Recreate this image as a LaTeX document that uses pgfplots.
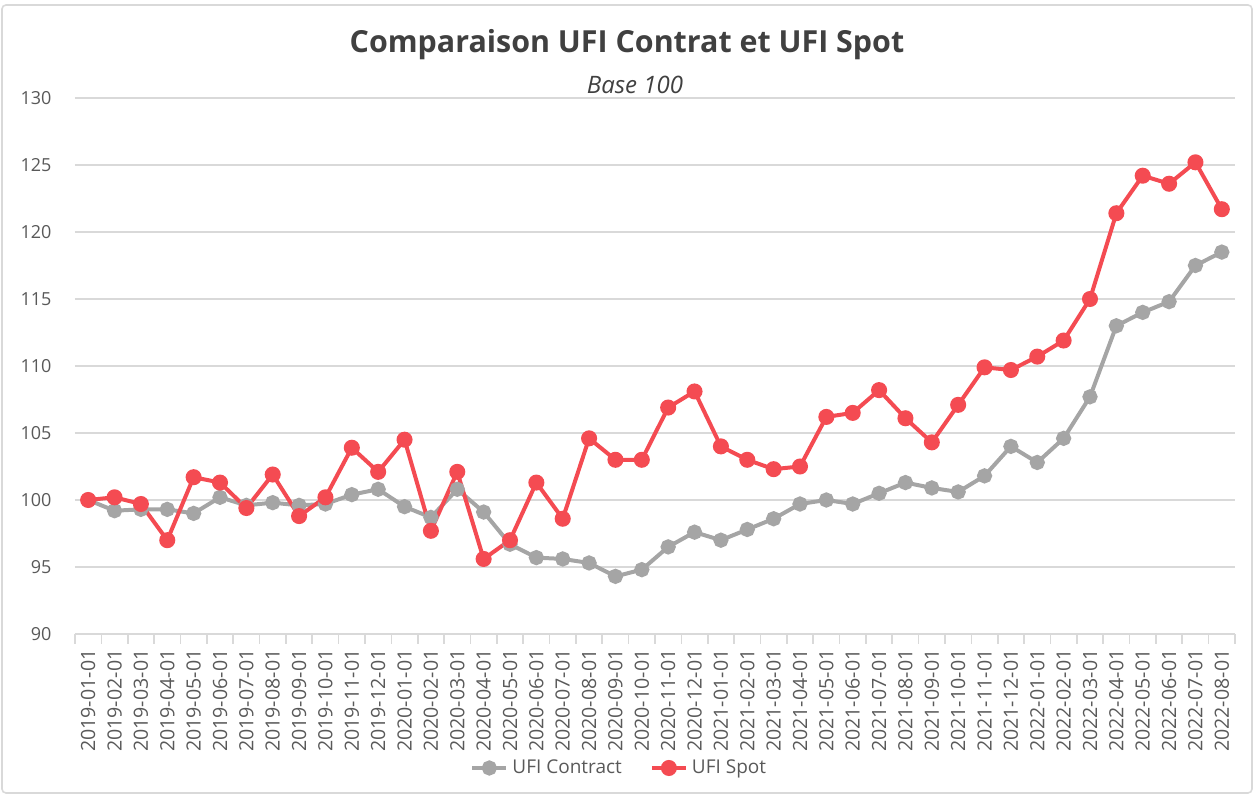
\documentclass[border=0pt]{standalone}
\usepackage{pgfplots}
\pgfplotsset{compat=1.18}
\usepackage{fontspec}
\setmainfont{Open Sans}
\definecolor{spotred}{HTML}{F44B52}
\definecolor{contgray}{HTML}{A5A5A5}
\definecolor{gridgray}{HTML}{D9D9D9}
\definecolor{txtgray}{HTML}{595959}
\definecolor{titlegray}{HTML}{404040}

\begin{document}
\begin{tikzpicture}
\useasboundingbox (-37.5pt,-81pt) rectangle (589.5pt,317pt);
\draw[gridgray, line width=0.8pt, rounded corners=2pt] (-36.5pt,-79.5pt) rectangle (588.5pt,314.5pt);
\begin{axis}[
    scale only axis, width=580pt, height=268pt,
    xmin=-0.5, xmax=43.5, ymin=90, ymax=130,
    ytick={90,95,...,130},
    xtick={0,...,43},
    xticklabels={2019-01-01,2019-02-01,2019-03-01,2019-04-01,2019-05-01,2019-06-01,2019-07-01,2019-08-01,2019-09-01,2019-10-01,2019-11-01,2019-12-01,
                 2020-01-01,2020-02-01,2020-03-01,2020-04-01,2020-05-01,2020-06-01,2020-07-01,2020-08-01,2020-09-01,2020-10-01,2020-11-01,2020-12-01,
                 2021-01-01,2021-02-01,2021-03-01,2021-04-01,2021-05-01,2021-06-01,2021-07-01,2021-08-01,2021-09-01,2021-10-01,2021-11-01,2021-12-01,
                 2022-01-01,2022-02-01,2022-03-01,2022-04-01,2022-05-01,2022-06-01,2022-07-01,2022-08-01},
    minor xtick={-0.5,0.5,...,43.5},
    axis x line*=bottom, axis y line*=left,
    x axis line style={gridgray, line width=0.9pt, -},
    y axis line style={draw=none},
    major tick style={draw=none},
    minor tick style={gridgray, line width=0.8pt},
    tick align=outside, minor tick length=5pt,
    ymajorgrids, grid style={gridgray, line width=0.8pt},
    /pgf/number format/assume math mode=true,
    tick label style={font=\fontsize{9}{10}\selectfont, color=txtgray},
    xticklabel style={rotate=90, anchor=east, font=\fontsize{9.8}{11}\selectfont},
    yticklabel style={xshift=-4pt},
    clip=false,
    legend columns=2,
    legend style={at={(0.47,-0.25)}, anchor=center, draw=none, fill=none,
        font=\fontsize{9.5}{11}\selectfont, text=txtgray,
        /tikz/every even column/.append style={column sep=12pt}},
    legend cell align=left,
]
\addplot[contgray, line width=2pt, mark=*, mark size=2.8pt, mark options={fill=contgray, draw=contgray}] coordinates {
    (0,100.0) (1,99.2) (2,99.3) (3,99.3) (4,99.0) (5,100.2) (6,99.6) (7,99.8) (8,99.6) (9,99.7) (10,100.4) (11,100.8)
    (12,99.5) (13,98.7) (14,100.8) (15,99.1) (16,96.7) (17,95.7) (18,95.6) (19,95.3) (20,94.3) (21,94.8) (22,96.5) (23,97.6)
    (24,97.0) (25,97.8) (26,98.6) (27,99.7) (28,100.0) (29,99.7) (30,100.5) (31,101.3) (32,100.9) (33,100.6) (34,101.8) (35,104.0)
    (36,102.8) (37,104.6) (38,107.7) (39,113.0) (40,114.0) (41,114.8) (42,117.5) (43,118.5)
};
\addlegendentry{UFI Contract}
\addplot[spotred, line width=2pt, mark=*, mark size=3pt, mark options={fill=spotred, draw=spotred}] coordinates {
    (0,100.0) (1,100.2) (2,99.7) (3,97.0) (4,101.7) (5,101.3) (6,99.4) (7,101.9) (8,98.8) (9,100.2) (10,103.9) (11,102.1)
    (12,104.5) (13,97.7) (14,102.1) (15,95.6) (16,97.0) (17,101.3) (18,98.6) (19,104.6) (20,103.0) (21,103.0) (22,106.9) (23,108.1)
    (24,104.0) (25,103.0) (26,102.3) (27,102.5) (28,106.2) (29,106.5) (30,108.2) (31,106.1) (32,104.3) (33,107.1) (34,109.9) (35,109.7)
    (36,110.7) (37,111.9) (38,115.0) (39,121.4) (40,124.2) (41,123.6) (42,125.2) (43,121.7)
};
\addlegendentry{UFI Spot}
\end{axis}
\node[font=\bfseries\fontsize{15.2}{17}\selectfont, text=titlegray] at (276pt,294.5pt) {Comparaison UFI Contrat et UFI Spot};
\node[font=\itshape\fontsize{12}{14}\selectfont, text=titlegray] at (280pt,274.5pt) {Base 100};
\end{tikzpicture}
\end{document}
